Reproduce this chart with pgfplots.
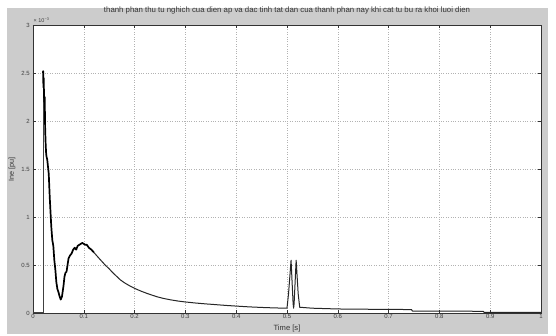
\documentclass[border=0pt]{standalone}
\usepackage{fontspec}
\setmainfont{Liberation Sans}
\usepackage{pgfplots}
\pgfplotsset{compat=1.18}
\definecolor{mgray}{RGB}{204,204,204}
\begin{document}
\begin{tikzpicture}
\fill[white] (0,0) rectangle (556pt,334pt);
\fill[mgray] (7pt,0) rectangle (548pt,326pt);
\begin{axis}[
  at={(33pt,21pt)}, anchor=south west,
  scale only axis, width=508pt, height=288pt,
  xmin=0, xmax=1, ymin=0, ymax=3,
  axis background/.style={fill=white},
  xtick={0,0.1,0.2,0.3,0.4,0.5,0.6,0.7,0.8,0.9,1},
  xticklabels={0,0.1,0.2,0.3,0.4,0.5,0.6,0.7,0.8,0.9,1},
  ytick={0,0.5,1,1.5,2,2.5,3},
  yticklabels={0,0.5,1,1.5,2,2.5,3},
  grid=major,
  major grid style={dotted, black!30, line width=0.5pt},
  tick align=inside, major tick length=3pt,
  tick style={black!80, line width=0.4pt},
  axis line style={black!80, line width=0.6pt},
  ticklabel style={font=\fontsize{6}{6.5}\selectfont, text=black!75},
  xticklabel style={inner sep=1pt, yshift=-0.5pt},
  yticklabel style={inner sep=1pt, xshift=-2pt},
  title={thanh phan thu tu nghich cua dien ap va dac tinh tat dan cua thanh phan nay khi cat tu bu ra khoi luoi dien},
  title style={font=\fontsize{7.8}{8}\selectfont, text=black!80, at={(axis description cs:0.5,1.031)}, anchor=center},
  xlabel={Time [s]},
  xlabel style={font=\fontsize{7.6}{8}\selectfont, text=black!80, at={(axis description cs:0.5,-0.053)}, anchor=center},
  ylabel={Ine [pu]},
  ylabel style={font=\fontsize{7.2}{8}\selectfont, text=black!80, at={(axis description cs:-0.0413,0.5)}, anchor=center},
  clip=false,
]
\addplot[black!75, line width=0.6pt] coordinates {
(0,0.005) (0.0195,0.005) (0.0195,2.5)
};
\addplot[black, line width=1.7pt, line join=round] coordinates {
(0.0195,2.5) (0.0200,2.52) (0.0205,2.35) (0.021,2.45) (0.022,2.2) (0.023,2.25)
(0.024,1.9) (0.025,1.75) (0.026,1.65) (0.027,1.62) (0.028,1.6) (0.029,1.55)
(0.031,1.45) (0.033,1.2) (0.035,1.0) (0.036,0.9) (0.038,0.76) (0.040,0.7)
(0.042,0.55) (0.044,0.45) (0.046,0.32) (0.048,0.25) (0.050,0.22) (0.052,0.18)
(0.0545,0.14) (0.057,0.17) (0.060,0.28) (0.062,0.38) (0.064,0.42) (0.066,0.43)
(0.068,0.5) (0.070,0.57) (0.073,0.6) (0.076,0.62) (0.079,0.66) (0.082,0.68)
(0.085,0.66) (0.088,0.7) (0.091,0.71) (0.094,0.72) (0.097,0.73) (0.100,0.72)
(0.103,0.71) (0.106,0.71) (0.110,0.68) (0.115,0.66) (0.120,0.63)
};
\addplot[black!85, line width=1.0pt, line join=round] coordinates {
(0.120,0.63) (0.125,0.6) (0.130,0.57) (0.136,0.535) (0.142,0.5) (0.150,0.46)
(0.157,0.42) (0.165,0.38) (0.172,0.345) (0.180,0.315) (0.188,0.29) (0.197,0.265)
(0.205,0.245) (0.214,0.225) (0.224,0.205) (0.235,0.185) (0.245,0.168) (0.256,0.153)
(0.270,0.138) (0.285,0.125) (0.300,0.115) (0.320,0.104) (0.340,0.095) (0.360,0.087)
(0.380,0.079) (0.400,0.072) (0.425,0.064) (0.450,0.058) (0.475,0.053) (0.500,0.05)
(0.503,0.2) (0.508,0.55) (0.512,0.1) (0.513,0.05) (0.514,0.1) (0.518,0.55)
(0.522,0.2) (0.525,0.06) (0.550,0.05) (0.600,0.042) (0.683,0.038) (0.745,0.036)
(0.747,0.02) (0.886,0.018) (0.888,0.007) (1.000,0.007)
};
\node[anchor=south west, font=\fontsize{5.5}{5.5}\selectfont, text=black!75, inner sep=0.5pt] at (rel axis cs:0,1.005) {× 10\textsuperscript{−3}};
\end{axis}
\end{tikzpicture}
\end{document}
